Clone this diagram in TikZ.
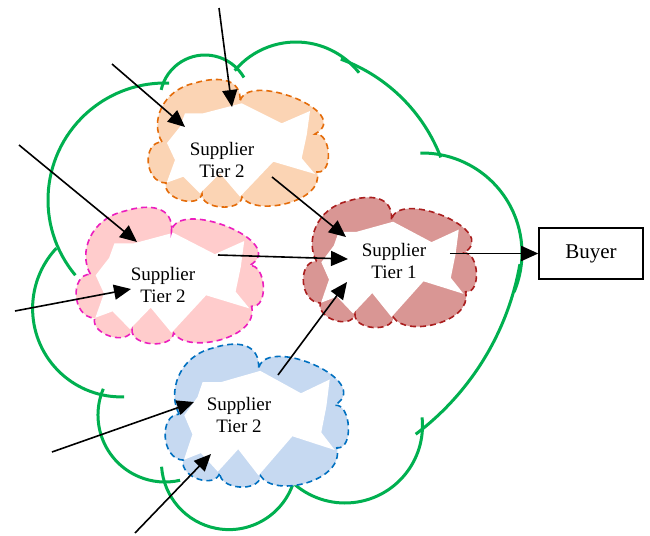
\documentclass[tikz,border=0pt]{standalone}
\usepackage{fontspec}
\setmainfont{Liberation Serif}
\usetikzlibrary{arrows.meta}

\definecolor{leafgreen}{RGB}{0,176,80}
\definecolor{peachfill}{RGB}{251,212,180}
\definecolor{peachline}{RGB}{228,108,10}
\definecolor{rosefill}{RGB}{255,204,204}
\definecolor{roseline}{RGB}{236,30,190}
\definecolor{brickfill}{RGB}{217,150,148}
\definecolor{brickline}{RGB}{170,30,30}
\definecolor{skyfill}{RGB}{198,217,241}
\definecolor{skyline}{RGB}{0,112,192}

\newcommand\cloudshape[1]{%
  \path[#1] (12,60) .. controls (0,40) and (12,8) .. (45,1)
    .. controls (68,-6) and (92,-4) .. (90,20)
    .. controls (95,-12) and (205,30) .. (165,52)
    .. controls (181,50) and (184,92) .. (167,90)
    .. controls (175,120) and (105,135) .. (92,115)
    .. controls (90.7,130.3) and (50.7,127.3) .. (52,112)
    .. controls (48,127.3) and (12,116.3) .. (16,101)
    .. controls (-6,100.3) and (-8,60) .. (12,60) -- cycle;}

\newcommand\cloudhole{%
  \fill[white] (35,31.3) -- (53.3,31.3) -- (91.7,21.3) -- (131.7,41.3)
    -- (160,29) -- (156.7,53) -- (151.7,76.3) -- (165,92) -- (123.3,79.7)
    -- (90,114.7) -- (70,91.3) -- (50,111.3) -- (33.3,94.7) -- (16.7,100.7)
    -- (25,78) -- (17,61) -- (30,44.7) -- cycle;}

\begin{document}
\begin{tikzpicture}[x=0.5pt, y=-0.5pt,
    rim/.style={leafgreen, line width=1.5pt},
    edge/.style={line width=0.8pt, dash pattern=on 3pt off 2pt},
    flow/.style={-{Triangle[length=8.5pt,width=7.5pt]}, line width=0.8pt},
    lbl/.style={align=center, inner sep=0pt, font=\fontsize{9.5}{11}\selectfont}]

  \path[use as bounding box, fill=white] (0,0) rectangle (650,536);

  \foreach \cx/\cy/\r/\a/\b in {205/100/45/193/330, 296/122/80/220/322,
      283/218/169/290/339, 422/253/100/269/383, 252/217/272/10/53,
      345/425.5/77.5/-6/133, 229/462/67.6/11/176, 165/415/67/203/77,
      121/308.5/88.4/223/88, 165/200/117/140/272}
    \draw[rim] (\cx,\cy) ++(\a:\r) arc[start angle=\a, end angle=\b, radius=\r];

  \begin{scope}[shift={(150,82)}]
    \cloudshape{fill=peachfill}
    \cloudhole
    \cloudshape{draw=peachline, edge}
  \end{scope}

  \begin{scope}[shift={(78,210)}, xscale=1.039, yscale=1.07]
    \cloudshape{fill=rosefill}
    \cloudhole
    \cloudshape{draw=roseline, edge}
  \end{scope}

  \begin{scope}[shift={(305,200)}, xscale=0.961, yscale=1.02]
    \cloudshape{fill=brickfill}
    \cloudhole
    \cloudshape{draw=brickline, edge}
  \end{scope}

  \begin{scope}[shift={(167,347)}, xscale=1.017, yscale=1.12]
    \cloudshape{fill=skyfill}
    \cloudhole
    \cloudshape{draw=skyline, edge}
  \end{scope}

  \node[lbl] (sup2a) at (222,160) {Supplier\\Tier 2};
  \node[lbl] (sup2b) at (163,285) {Supplier\\Tier 2};
  \node[lbl] (sup1) at (394,261) {Supplier\\Tier 1};
  \node[lbl] (sup2c) at (239,415) {Supplier\\Tier 2};
  \node[draw, line width=0.75pt, minimum width=52pt, minimum height=25.5pt,
    font=\fontsize{10.5}{12}\selectfont] (buyer) at (591,253.5) {Buyer};

  \coordinate (src1) at (219,8);    \coordinate (tip1) at (232,107);
  \coordinate (src2) at (112,64);   \coordinate (tip2) at (185,127);
  \coordinate (src3) at (19,145);   \coordinate (tip3) at (137,242);
  \coordinate (src4) at (15,311);   \coordinate (tip4) at (131,289);
  \coordinate (src5) at (218,255);  \coordinate (tip5) at (348,259);
  \coordinate (src6) at (272,177);  \coordinate (tip6) at (346,237);
  \coordinate (src7) at (278,375);  \coordinate (tip7) at (347,282);
  \coordinate (src8) at (52,452);   \coordinate (tip8) at (194,402);
  \coordinate (src9) at (135,533);  \coordinate (tip9) at (211,454);
  \coordinate (src10) at (450,253.5);

  \foreach \s/\t in {src1/tip1, src2/tip2, src3/tip3, src4/tip4, src5/tip5,
      src6/tip6, src7/tip7, src8/tip8, src9/tip9, src10/buyer.west}
    \draw[flow] (\s) -- (\t);

\end{tikzpicture}
\end{document}
